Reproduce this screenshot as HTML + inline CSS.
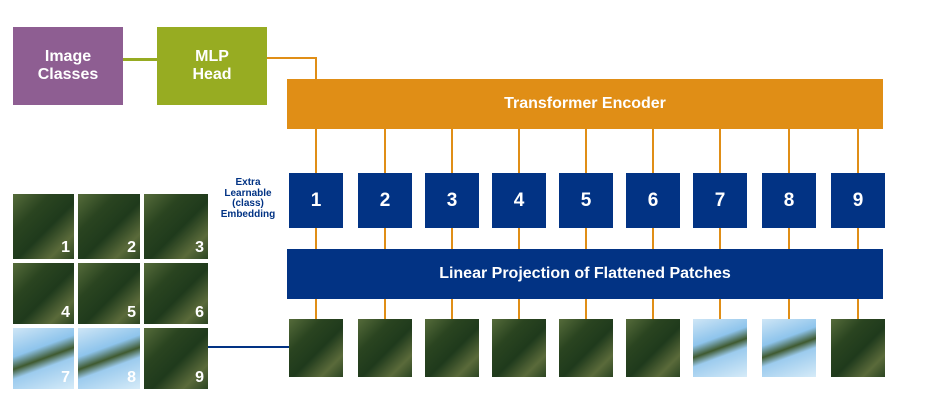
<!DOCTYPE html>
<html><head><style>
body{margin:0;width:936px;height:415px;background:#fff;position:relative;overflow:hidden;font-family:"Liberation Sans",sans-serif;font-weight:bold}
.b{position:absolute;color:#fff;display:flex;align-items:center;justify-content:center;text-align:center}
.l{position:absolute;background:#e08e16}
.t{position:absolute;background:linear-gradient(135deg,#556b3a 0%,#2a4420 30%,#1f3a1c 55%,#5a6a3a 80%,#2c4522 100%)}
.w{background:linear-gradient(160deg,#cfe6f6 0%,#8ec4ec 35%,#3f5a30 50%,#9ccbee 62%,#d6ebf8 100%)}
.n{position:absolute;right:4px;bottom:2px;color:#fff;font-size:16px}
</style></head><body>
<div class="b" style="left:13px;top:27px;width:110px;height:78px;background:#8e5e92;font-size:16px;line-height:18px">Image<br>Classes</div>
<div style="position:absolute;left:123px;top:58px;width:34px;height:3px;background:#96ab22"></div>
<div class="b" style="left:157px;top:27px;width:110px;height:78px;background:#97ac22;font-size:16px;line-height:18px">MLP<br>Head</div>
<div class="l" style="left:267px;top:57px;width:50px;height:2px"></div>
<div class="l" style="left:315px;top:57px;width:2px;height:22px"></div>
<div class="b" style="left:287px;top:79px;width:596px;height:50px;background:#e08e16;font-size:16px">Transformer Encoder</div>
<div class="b" style="left:287px;top:249px;width:596px;height:50px;background:#023384;font-size:16px">Linear Projection of Flattened Patches</div>
<div style="position:absolute;left:210px;top:178px;width:76px;text-align:center;color:#023384;font-size:10px;line-height:10.5px">Extra<br>Learnable<br>(class)<br>Embedding</div>
<div id="tk"></div>
<div style="position:absolute;left:208px;top:346px;width:81px;height:2px;background:#023384"></div>
<div class="t" style="left:13px;top:194px;width:61px;height:65px"><span class="n">1</span></div>
<div class="t" style="left:78px;top:194px;width:62px;height:65px"><span class="n">2</span></div>
<div class="t" style="left:144px;top:194px;width:64px;height:65px"><span class="n">3</span></div>
<div class="t" style="left:13px;top:263px;width:61px;height:61px"><span class="n">4</span></div>
<div class="t" style="left:78px;top:263px;width:62px;height:61px"><span class="n">5</span></div>
<div class="t" style="left:144px;top:263px;width:64px;height:61px"><span class="n">6</span></div>
<div class="t w" style="left:13px;top:328px;width:61px;height:61px"><span class="n">7</span></div>
<div class="t w" style="left:78px;top:328px;width:62px;height:61px"><span class="n">8</span></div>
<div class="t" style="left:144px;top:328px;width:64px;height:61px"><span class="n">9</span></div>
<script>
var c=[316,385,452,519,586,653,720,789,858],h='';
c.forEach(function(x,i){
h+='<div class="l" style="left:'+(x-1)+'px;top:129px;width:2px;height:44px"></div>';
h+='<div class="l" style="left:'+(x-1)+'px;top:228px;width:2px;height:21px"></div>';
h+='<div class="l" style="left:'+(x-1)+'px;top:299px;width:2px;height:20px"></div>';
h+='<div class="b" style="left:'+(x-27)+'px;top:173px;width:54px;height:55px;background:#023384;font-size:19px">'+(i+1)+'</div>';
h+='<div class="t'+((i==6||i==7)?' w':'')+'" style="left:'+(x-27)+'px;top:319px;width:54px;height:58px"></div>';
});
document.getElementById('tk').innerHTML=h;
</script>
</body></html>
